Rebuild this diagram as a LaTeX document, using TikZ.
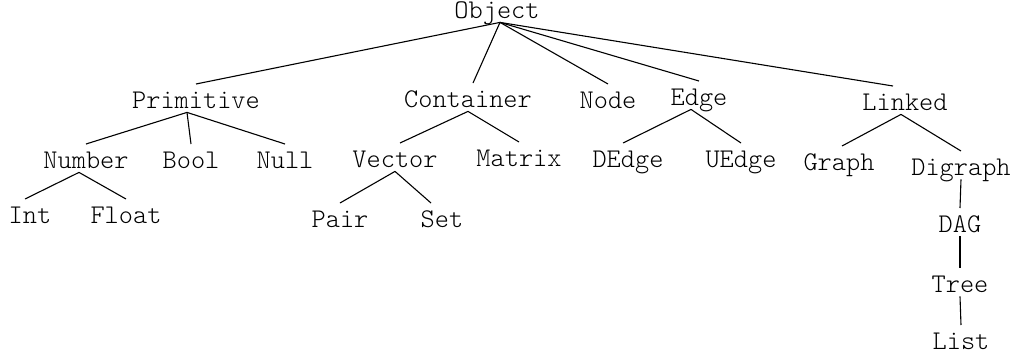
\documentclass[tikz,border=0pt]{standalone}
\usepackage{fontspec}
\setmonofont{Latin Modern Mono Light}
\begin{document}
\begin{tikzpicture}[x=0.5pt,y=-0.5pt,
  cls/.style={anchor=base,inner sep=0pt,text height=11.8pt,text depth=2pt,
    font=\ttfamily\fontsize{13.5}{16}\selectfont},
  link/.style={line width=0.55pt,black}]
\useasboundingbox (0,0) rectangle (1019,360);
% level 0
\node[cls] (obj) at (497,18) {Object};
% level 1
\node[cls] (prim) at (196,108) {Primitive};
\node[cls] (cont) at (468,107) {Container};
\node[cls] (node) at (608,108) {Node};
\node[cls] (edge) at (699,105) {Edge};
\node[cls] (link) at (905,110) {Linked};
% level 2
\node[cls] (num) at (86,168) {Number};
\node[cls] (bool) at (191,168) {Bool};
\node[cls] (null) at (285,168) {Null};
\node[cls] (vec) at (395,167) {Vector};
\node[cls] (mat) at (519,166) {Matrix};
\node[cls] (dedge) at (628,167) {DEdge};
\node[cls] (uedge) at (741,167) {UEdge};
\node[cls] (graph) at (839,170) {Graph};
\node[cls] (digr) at (961,175) {Digraph};
% level 3
\node[cls] (int) at (30,223) {Int};
\node[cls] (float) at (126,223) {Float};
\node[cls] (pair) at (340,227) {Pair};
\node[cls] (set) at (442,227) {Set};
\node[cls] (dag) at (960,232) {DAG};
\node[cls] (tree) at (960,292) {Tree};
\node[cls] (list) at (961,349) {List};
% connectors
\draw[link] ([xshift=1.5pt]obj.south) -- (prim.north);
\draw[link] ([xshift=1.5pt]obj.south) -- ([xshift=2.5pt]cont.north);
\draw[link] ([xshift=1.5pt]obj.south) -- (node.north);
\draw[link] ([xshift=1.5pt]obj.south) -- (edge.north);
\draw[link] ([xshift=1.5pt]obj.south) -- ([xshift=-6pt]link.north);
\draw[link] ([xshift=-4.5pt]prim.south) -- (num.north);
\draw[link] ([xshift=-4.5pt]prim.south) -- (bool.north);
\draw[link] ([xshift=-4.5pt]prim.south) -- (null.north);
\draw[link] (cont.south) -- ([xshift=2.5pt]vec.north);
\draw[link] (cont.south) -- (mat.north);
\draw[link] ([xshift=-4pt]edge.south) -- ([xshift=-2.5pt]dedge.north);
\draw[link] ([xshift=-4pt]edge.south) -- (uedge.north);
\draw[link] ([xshift=-2pt]link.south) -- ([xshift=1.5pt]graph.north);
\draw[link] ([xshift=-2pt]link.south) -- (digr.north);
\draw[link] ([xshift=-3.5pt]num.south) -- ([xshift=-2.5pt]int.north);
\draw[link] ([xshift=-3.5pt]num.south) -- (float.north);
\draw[link] (vec.south) -- (pair.north);
\draw[link] (vec.south) -- ([xshift=-5.5pt]set.north);
\draw[link] (digr.south) -- (dag.north);
\draw[link] (dag.south) -- (tree.north);
\draw[link] (tree.south) -- (list.north);
\end{tikzpicture}
\end{document}
